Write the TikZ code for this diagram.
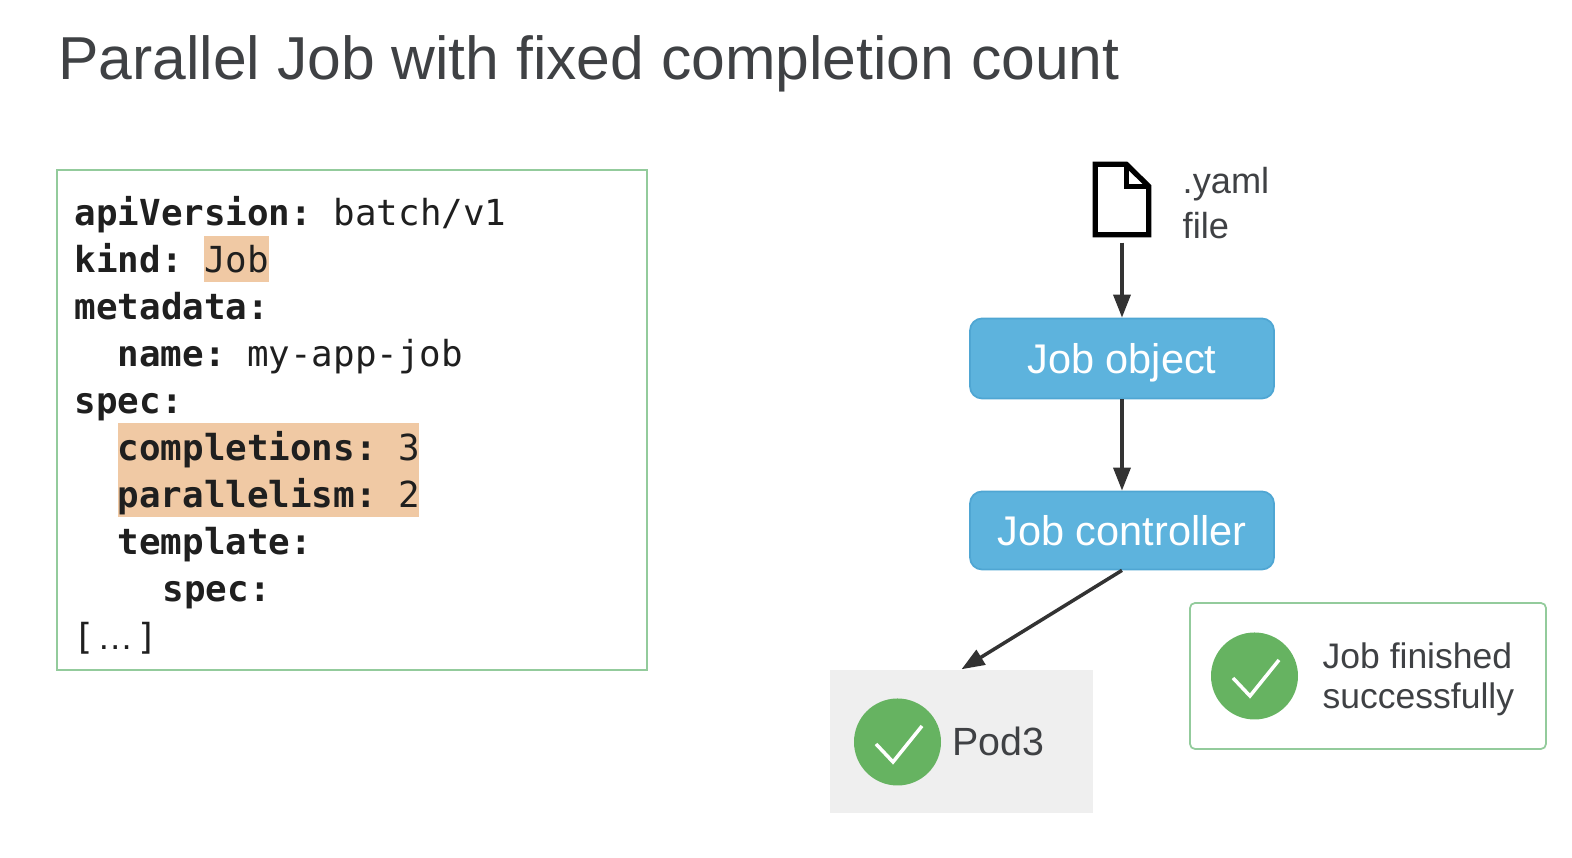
\documentclass[tikz,border=0pt]{standalone}
\usepackage{fontspec}
\setmainfont{Liberation Sans}
\setmonofont{DejaVu Sans Mono}
\usepackage{xcolor}
\usepackage{tikz}
\usetikzlibrary{arrows.meta}
\definecolor{gkgreen}{HTML}{66B361}
\definecolor{gkframe}{HTML}{93CB9C}
\definecolor{gkblue}{HTML}{5DB3DD}
\definecolor{gkedge}{HTML}{4FA6D3}
\definecolor{gkpeach}{HTML}{F0C9A4}
\definecolor{gkgrey}{HTML}{EFEFEF}
\definecolor{gktext}{HTML}{3F4144}

\begin{document}
\begin{tikzpicture}[x=1cm,y=1cm,
    codeline/.style={anchor=base west, inner sep=0pt, text=black!88,
                     font=\fontsize{10.2}{12}\selectfont\ttfamily},
    label/.style={anchor=base west, inner sep=0pt, text=gktext,
                  font=\fontsize{10.1}{12}\selectfont},
    bluebox/.style={rectangle, rounded corners=0.12cm, draw=gkedge, fill=gkblue, line width=0.5pt,
                    minimum width=3.04cm, text=white, text height=0.31cm, text depth=0pt,
                    font=\fontsize{11.8}{14}\selectfont},
    okdot/.style={circle, fill=gkgreen, inner sep=0pt, minimum size=0.87cm},
    okmark/.style={draw=white, line width=1pt},
    flow/.style={line width=1pt, black!80, -{Triangle[length=0.23cm,width=0.17cm]}}]
  \useasboundingbox (0,0) rectangle (15.72,8.58);

  % -- title --
  \node[label, font=\fontsize{17.25}{20}\selectfont] (title) at (0.575,7.785) {Parallel Job with fixed completion count};

  % -- yaml listing: highlights go first so that the text sits on top
  \fill[gkpeach] (2.04,6.22) rectangle (2.69,5.76);
  \fill[gkpeach] (1.175,4.35) rectangle (4.19,3.41);
  \draw[line width=0.6pt, gkframe] (0.57,6.88) rectangle (6.47,1.88);
  \foreach \x/\y/\key/\val [count=\n] in {%
      0.74/6.32/apiVersion:/{batch/v1},
      0.74/5.85/kind:/Job,
      0.74/5.38/metadata:/{},
      1.17/4.91/name:/my-app-job,
      0.74/4.44/spec:/{},
      1.17/3.97/completions:/3,
      1.17/3.50/parallelism:/2,
      1.17/3.03/template:/{},
      1.62/2.56/spec:/{}}{
    \node[codeline] (line\n) at (\x,\y) {\textbf{\key} \val};}
  \node[codeline] (rest) at (0.73,2.085) {[{\rmfamily\hspace{0.02cm}…\hspace{0.03cm}}]};

  % -- file icon: the node only holds the place, the sheet is drawn on it
  \node[minimum width=0.52cm, minimum height=0.69cm, inner sep=0pt] (yaml) at (11.22,6.585) {};
  \draw[line width=1.5pt, black, line join=miter]
    (yaml.south west) -- (yaml.north west) -- ([xshift=0.31cm]yaml.north west)
    -- ([yshift=-0.22cm]yaml.north east) -- (yaml.south east) -- cycle;
  \draw[line width=1.5pt, black] ([xshift=0.31cm]yaml.north west) -- ++(0,-0.22) -- ([yshift=-0.22cm]yaml.north east);
  \node[label, font=\fontsize{10.3}{12}\selectfont] (yamltop) at (11.82,6.64) {.yaml};
  \node[label, font=\fontsize{10.3}{12}\selectfont] (yamlbot) at (11.82,6.195) {file};

  % -- job boxes --
  \node[bluebox, minimum height=0.80cm] (jobobj) at (11.22,4.995) {Job object};
  \node[bluebox, minimum height=0.78cm] (jobctl) at (11.22,3.275) {Job controller};

  % -- pod --
  \node[rectangle, fill=gkgrey, minimum width=2.63cm, minimum height=1.43cm] (pod) at (9.615,1.165) {};
  \node[okdot] (podok) at (8.975,1.16) {};
  \node[label, font=\fontsize{11.2}{13}\selectfont] (podtxt) at (9.52,1.02) {Pod3};

  % -- result box --
  \node[rectangle, rounded corners=0.05cm, draw=gkframe, line width=0.5pt, minimum width=3.56cm, minimum height=1.46cm] (done) at (13.68,1.82) {};
  \node[okdot] (doneok) at (12.545,1.82) {};
  \node[label] (donetop) at (13.22,1.89) {Job finished};
  \node[label] (donebot) at (13.22,1.49) {successfully};

  % -- tick marks, one per green dot
  \foreach \dot in {podok, doneok}{
    \draw[okmark] ([shift={(-0.215,-0.02)}]\dot.center) -- ++(0.17,-0.18) -- ++(0.29,0.36);}

  % -- arrows --
  \draw[flow, shorten <=0.08cm] (yaml) -- (jobobj);
  \draw[flow] (jobobj) -- (jobctl);
  \draw[flow] (jobctl.south) -- (pod.north);
\end{tikzpicture}
\end{document}
